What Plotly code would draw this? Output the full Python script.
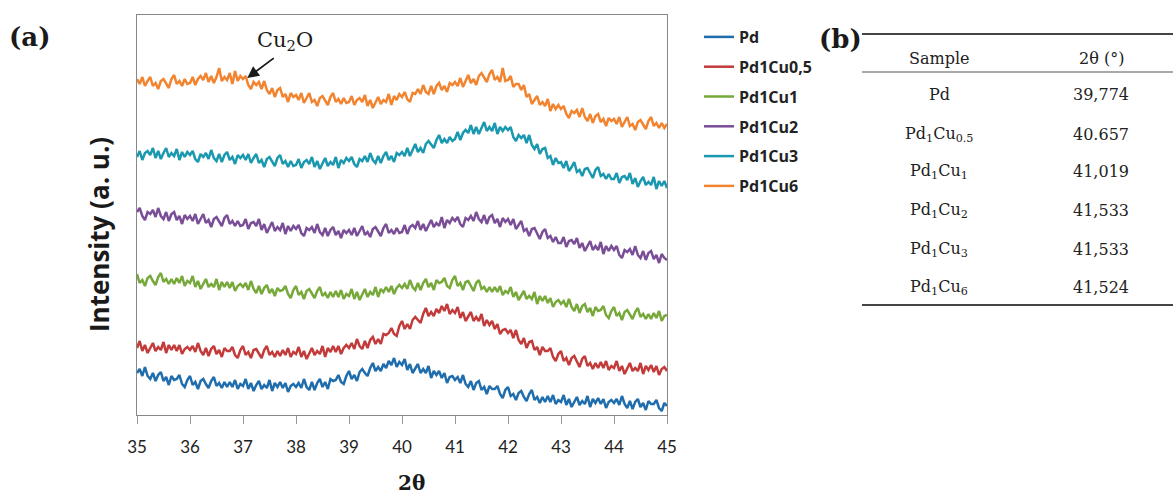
import plotly.graph_objects as go

# ---------------- data ----------------
two_theta = [round(35 + 0.05 * i, 2) for i in range(201)]

series_names = ["Pd", "Pd1Cu0,5", "Pd1Cu1", "Pd1Cu2", "Pd1Cu3", "Pd1Cu6"]

pd_vals = [
    42, 46, 39, 48, 39, 36, 42, 34, 40, 43,
    34, 38, 30, 39, 35, 36, 40, 31, 28, 35,
    39, 30, 33, 26, 34, 36, 31, 27, 34, 38,
    29, 32, 27, 33, 28, 33, 28, 35, 26, 31,
    29, 36, 26, 32, 24, 30, 34, 26, 30, 27,
    35, 24, 32, 28, 33, 27, 32, 23, 29, 31,
    28, 32, 27, 36, 28, 25, 33, 25, 32, 36,
    28, 33, 26, 36, 34, 35, 40, 33, 31, 39,
    44, 36, 40, 34, 43, 46, 42, 39, 47, 52,
    44, 48, 44, 51, 47, 54, 50, 57, 48, 53,
    50, 56, 45, 51, 42, 47, 51, 42, 46, 42,
    49, 37, 44, 40, 44, 37, 42, 32, 38, 39,
    35, 38, 32, 40, 31, 28, 34, 25, 32, 34,
    25, 28, 21, 29, 26, 26, 29, 21, 17, 25,
    28, 19, 21, 15, 22, 24, 18, 14, 21, 25,
    15, 18, 12, 18, 13, 19, 13, 20, 11, 15,
    13, 20, 10, 16, 8, 13, 18, 10, 14, 11,
    19, 8, 16, 12, 17, 11, 16, 7, 13, 15,
    12, 16, 10, 19, 11, 7, 14, 6, 13, 16,
    8, 12, 5, 14, 11, 11, 15, 7, 4, 12,
    9,
]

pd1cu05_vals = [
    67, 74, 64, 70, 62, 67, 72, 64, 68, 65,
    73, 62, 70, 65, 70, 64, 70, 61, 66, 68,
    65, 69, 63, 72, 64, 60, 67, 59, 66, 69,
    61, 65, 58, 67, 64, 64, 68, 60, 57, 65,
    69, 60, 63, 57, 65, 66, 61, 57, 65, 69,
    60, 63, 58, 64, 59, 65, 60, 67, 58, 63,
    61, 68, 58, 64, 56, 62, 67, 60, 64, 61,
    69, 58, 67, 63, 69, 63, 69, 61, 67, 70,
    67, 72, 66, 76, 69, 66, 74, 67, 75, 78,
    71, 76, 71, 81, 80, 82, 87, 81, 79, 89,
    94, 86, 91, 86, 95, 98, 95, 92, 101, 107,
    99, 103, 99, 106, 102, 109, 104, 111, 101, 105,
    102, 108, 97, 103, 94, 99, 103, 94, 98, 94,
    101, 89, 95, 90, 94, 86, 91, 81, 85, 86,
    82, 85, 77, 85, 75, 71, 77, 67, 73, 74,
    65, 68, 60, 68, 64, 64, 67, 58, 54, 61,
    64, 54, 57, 50, 57, 59, 53, 48, 56, 59,
    49, 52, 46, 52, 47, 53, 47, 54, 45, 49,
    47, 54, 44, 49, 41, 47, 52, 44, 47, 44,
    52, 41, 49, 45, 50, 43, 49, 40, 46, 48,
    44,
]

pd1cu1_vals = [
    141, 132, 135, 129, 137, 139, 134, 130, 138, 142,
    133, 136, 131, 136, 131, 137, 132, 139, 129, 134,
    132, 139, 128, 134, 126, 131, 136, 128, 131, 128,
    136, 125, 133, 128, 133, 127, 133, 124, 129, 131,
    128, 132, 125, 134, 126, 122, 129, 121, 127, 130,
    122, 126, 119, 127, 124, 125, 129, 121, 117, 125,
    129, 120, 123, 116, 124, 126, 121, 117, 124, 128,
    119, 122, 117, 123, 118, 124, 118, 125, 116, 121,
    119, 126, 116, 123, 115, 121, 126, 118, 123, 120,
    128, 118, 126, 123, 128, 123, 129, 121, 127, 130,
    127, 131, 126, 135, 128, 125, 132, 125, 132, 136,
    128, 132, 125, 135, 132, 133, 137, 129, 127, 135,
    139, 129, 132, 125, 133, 134, 129, 124, 132, 135,
    126, 128, 123, 128, 123, 128, 123, 129, 120, 124,
    122, 128, 118, 123, 115, 120, 124, 116, 119, 116,
    123, 111, 119, 114, 119, 112, 117, 108, 113, 115,
    111, 114, 108, 116, 108, 104, 111, 102, 109, 111,
    103, 107, 99, 108, 104, 105, 109, 100, 97, 104,
    108, 99, 102, 95, 103, 105, 100, 96, 103, 107,
    98, 101, 96, 101, 96, 102, 97, 104, 94, 99,
    100,
]

pd1cu2_vals = [
    203, 207, 199, 195, 203, 201, 205, 198, 207, 199,
    196, 203, 194, 201, 203, 195, 199, 191, 200, 196,
    199, 194, 201, 191, 196, 201, 192, 195, 188, 196,
    198, 193, 189, 197, 200, 191, 194, 189, 194, 189,
    190, 196, 186, 192, 193, 189, 196, 185, 191, 182,
    188, 193, 184, 188, 185, 192, 181, 189, 184, 189,
    186, 190, 182, 179, 187, 185, 188, 182, 191, 183,
    180, 187, 179, 185, 188, 180, 184, 177, 185, 182,
    185, 180, 187, 179, 184, 189, 180, 183, 178, 186,
    188, 183, 179, 187, 191, 182, 185, 181, 187, 182,
    183, 190, 181, 188, 190, 187, 194, 185, 191, 184,
    190, 195, 188, 192, 189, 198, 187, 195, 192, 197,
    194, 198, 191, 188, 197, 195, 199, 194, 203, 196,
    193, 200, 191, 198, 200, 192, 196, 188, 197, 193,
    196, 190, 196, 186, 190, 194, 184, 186, 179, 186,
    187, 181, 176, 183, 186, 177, 179, 173, 178, 172,
    172, 178, 168, 174, 175, 171, 177, 167, 172, 164,
    169, 174, 165, 169, 165, 173, 161, 169, 164, 169,
    165, 169, 160, 157, 165, 163, 166, 160, 169, 160,
    157, 164, 155, 162, 164, 156, 160, 152, 161, 157,
    155,
]

pd1cu3_vals = [
    258, 264, 255, 262, 264, 260, 267, 257, 264, 256,
    262, 267, 258, 262, 259, 266, 255, 263, 258, 263,
    260, 264, 256, 253, 261, 258, 262, 256, 265, 257,
    254, 261, 253, 260, 263, 255, 258, 251, 260, 257,
    260, 255, 261, 252, 257, 261, 252, 255, 248, 256,
    258, 253, 249, 257, 260, 251, 254, 248, 254, 249,
    250, 256, 247, 253, 255, 251, 258, 248, 254, 246,
    252, 257, 249, 253, 250, 258, 247, 255, 252, 257,
    254, 258, 251, 248, 256, 254, 259, 253, 262, 255,
    252, 259, 252, 259, 263, 255, 259, 253, 262, 260,
    263, 259, 267, 259, 265, 271, 263, 267, 262, 271,
    274, 270, 267, 275, 280, 272, 276, 272, 278, 274,
    276, 283, 275, 282, 285, 282, 290, 281, 288, 281,
    288, 293, 284, 288, 284, 292, 281, 288, 284, 288,
    285, 288, 278, 274, 280, 277, 280, 272, 280, 270,
    266, 271, 261, 266, 267, 257, 259, 250, 257, 252,
    253, 247, 254, 244, 248, 253, 243, 245, 239, 246,
    247, 242, 237, 245, 248, 239, 241, 236, 241, 236,
    236, 242, 232, 238, 239, 235, 242, 231, 237, 228,
    234, 238, 230, 233, 230, 238, 226, 234, 229, 234,
    227,
]

pd1cu6_vals = [
    336, 331, 338, 329, 334, 338, 329, 332, 326, 334,
    336, 331, 327, 336, 340, 331, 334, 329, 336, 331,
    332, 338, 330, 336, 339, 335, 342, 333, 339, 332,
    338, 347, 334, 338, 335, 342, 331, 344, 334, 339,
    336, 339, 330, 326, 333, 330, 333, 326, 334, 325,
    321, 327, 318, 325, 327, 318, 321, 313, 322, 318,
    320, 315, 322, 312, 317, 322, 313, 315, 309, 317,
    319, 314, 310, 318, 322, 313, 316, 311, 317, 312,
    313, 319, 310, 315, 317, 313, 320, 309, 315, 307,
    313, 318, 311, 315, 313, 321, 310, 319, 315, 321,
    318, 323, 316, 313, 322, 321, 326, 321, 330, 323,
    321, 329, 321, 329, 332, 325, 329, 323, 332, 330,
    333, 329, 337, 328, 334, 340, 332, 336, 330, 339,
    342, 337, 333, 341, 345, 335, 338, 333, 347, 334,
    335, 339, 328, 331, 331, 325, 330, 318, 321, 311,
    315, 319, 310, 313, 309, 316, 304, 311, 306, 310,
    306, 309, 301, 297, 304, 302, 305, 298, 307, 298,
    294, 301, 292, 299, 301, 293, 296, 289, 297, 294,
    296, 291, 298, 288, 293, 298, 289, 291, 285, 293,
    295, 290, 286, 294, 298, 289, 292, 287, 292, 287,
    291,
]

series_values = [pd_vals, pd1cu05_vals, pd1cu1_vals, pd1cu2_vals, pd1cu3_vals, pd1cu6_vals]
series_colors = ["#1F6DAC", "#C23B3A", "#76A83A", "#7A4D97", "#1A98B0", "#F2832F"]

x_ticks = [35, 36, 37, 38, 39, 40, 41, 42, 43, 44, 45]

table_header = ["Sample", "2θ (°)"]
table_samples = ["Pd", "Pd<sub>1</sub>Cu<sub>0.5</sub>", "Pd<sub>1</sub>Cu<sub>1</sub>",
                 "Pd<sub>1</sub>Cu<sub>2</sub>", "Pd<sub>1</sub>Cu<sub>3</sub>", "Pd<sub>1</sub>Cu<sub>6</sub>"]
table_angles = ["39,774", "40.657", "41,019", "41,533", "41,533", "41,524"]

# ---------------- layout helpers ----------------
W, H = 1173, 497
L, R, T, B = 137, 667, 15, 415


def px(x):
    return (x - L) / (R - L)


def py(y):
    return (B - y) / (B - T)


fig = go.Figure()
for name, vals, col in zip(series_names, series_values, series_colors):
    fig.add_trace(go.Scatter(
        x=two_theta, y=vals, mode="lines", name=name,
        line=dict(color=col, width=2.5), legendgroup=name,
    ))

SERIF = "DejaVu Serif"
SANS = "Open Sans"
TXT = "#1a1a1a"

annotations = [
    dict(text="<b>(a)</b>", x=px(29), y=py(37), font=dict(family=SERIF, size=26, color=TXT)),
    dict(text="<b>(b)</b>", x=px(840), y=py(39), font=dict(family=SERIF, size=26, color=TXT)),
    dict(text="<b>Intensity (a. u.)</b>", x=px(99), y=py(235), textangle=-90,
         font=dict(family=SANS, size=26, color=TXT)),
    dict(text="<b>2θ</b>", x=px(411), y=py(483), font=dict(family=SERIF, size=20, color=TXT)),
    dict(text="Cu<sub>2</sub>O", x=px(285), y=py(41), font=dict(family=SERIF, size=21, color=TXT)),
]
for a in annotations:
    a.update(xref="paper", yref="paper", showarrow=False, xanchor="center", yanchor="middle")

# Arrow for Cu2O
annotations.append(dict(
    x=37.08, y=337, xref="x", yref="y", text="", showarrow=True,
    ax=28, ay=-21, arrowhead=2, arrowsize=1.3, arrowwidth=1.8, arrowcolor=TXT,
))

# Table text
row_y = [58, 95, 134, 172, 210, 249, 287]
col_x = [939, 1101]
for j, h in enumerate(table_header):
    annotations.append(dict(text=h, x=px(col_x[j]), y=py(row_y[0]), xref="paper", yref="paper",
                            showarrow=False, xanchor="center", yanchor="middle",
                            font=dict(family=SERIF, size=16, color="#222")))
for i, (s, v) in enumerate(zip(table_samples, table_angles)):
    for j, t in enumerate([s, v]):
        annotations.append(dict(text=t, x=px(col_x[j]), y=py(row_y[i + 1]), xref="paper", yref="paper",
                                showarrow=False, xanchor="center", yanchor="middle",
                                font=dict(family=SERIF, size=16, color="#222")))

shapes = [
    dict(type="line", xref="paper", yref="paper", x0=px(862), x1=px(1173), y0=py(34), y1=py(34),
         line=dict(color="#444", width=2)),
    dict(type="line", xref="paper", yref="paper", x0=px(862), x1=px(1173), y0=py(72), y1=py(72),
         line=dict(color="#555", width=1.2)),
    dict(type="line", xref="paper", yref="paper", x0=px(862), x1=px(1173), y0=py(305), y1=py(305),
         line=dict(color="#444", width=2)),
]

fig.update_layout(
    width=W, height=H,
    margin=dict(l=L, r=W - R, t=T, b=H - B, pad=0),
    paper_bgcolor="white", plot_bgcolor="white",
    showlegend=True,
    legend=dict(x=px(699), y=py(20), xanchor="left", yanchor="top",
                font=dict(family=SANS, size=16, color="#222", weight="bold"),
                traceorder="grouped", tracegroupgap=6, bgcolor="rgba(0,0,0,0)",
                itemwidth=30),
    annotations=annotations,
    shapes=shapes,
    xaxis=dict(range=[35, 45], tickvals=x_ticks, ticktext=[str(t) for t in x_ticks],
               ticks="outside", ticklen=8, tickcolor="#999", showline=True, linecolor="#888",
               linewidth=1.3, mirror=True, showgrid=False, zeroline=False, ticklabelstandoff=8,
               tickfont=dict(family="Lato", size=17, color="#222")),
    yaxis=dict(range=[0, 400], showticklabels=False, ticks="", showline=True, linecolor="#888",
               linewidth=1.3, mirror=True, showgrid=False, zeroline=False),
)

fig.write_html(
    "out.html",
    config={"displayModeBar": False},
    post_script="document.body.style.margin='0';document.body.style.overflow='hidden';",
)
